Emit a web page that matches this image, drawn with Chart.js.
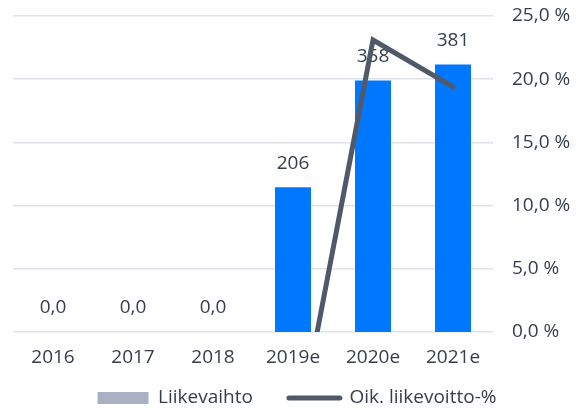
<!DOCTYPE html>
<html>
<head>
<meta charset="utf-8">
<script src="https://cdn.jsdelivr.net/npm/chart.js@4/dist/chart.umd.min.js"></script>
<style>
  html, body { margin: 0; padding: 0; background: #fff; }
  #wrap { width: 581px; height: 408px; }
</style>
</head>
<body>
<div id="wrap"><canvas id="chart"></canvas></div>
<script>
// Chart data
const years = ["2016", "2017", "2018", "2019e", "2020e", "2021e"];
const liikevaihto = [0, 0, 0, 206, 358, 381];
const liikevoittoPct = [null, null, null, -10.0, 23.1, 19.4];
const pctTicks = [0, 5, 10, 15, 20, 25];

const textColor = "#353e4d";
const fontFamily = "'Open Sans', sans-serif";

function fiNumber(v, dec) {
    return v.toFixed(dec).replace(".", ",");
}

// Value labels above the bars
const barLabels = {
    id: "barLabels",
    afterDatasetDraw(chart, args) {
        if (args.index !== 0) return;
        const ctx = chart.ctx;
        ctx.save();
        ctx.fillStyle = textColor;
        ctx.font = "19px " + fontFamily;
        ctx.textAlign = "center";
        ctx.textBaseline = "middle";
        args.meta.data.forEach((bar, i) => {
            const v = liikevaihto[i];
            const txt = v === 0 ? fiNumber(v, 1) : String(v);
            ctx.fillText(txt, bar.x, bar.y - 24);
        });
        ctx.restore();
    }
};

// Legend sits a bit closer to the axis labels than the default layout puts it
const legendShift = {
    id: "legendShift",
    afterLayout(chart) {
        const lg = chart.legend;
        lg.top = 352.5;
        lg.bottom = chart.height;
        lg.height = lg.bottom - lg.top;
    }
};

const ctx = document.getElementById("chart").getContext("2d");
new Chart(ctx, {
    type: "bar",
    data: {
        labels: years,
        datasets: [{
            label: "Liikevaihto",
            data: liikevaihto,
            backgroundColor: "#0077ff",
            yAxisID: "y",
            order: 1,
            barPercentage: 0.45,
            categoryPercentage: 1
        }, {
            type: "line",
            label: "Oik. liikevoitto-%",
            data: liikevoittoPct,
            borderColor: "#505969",
            borderWidth: 5,
            borderCapStyle: "round",
            pointRadius: 0,
            tension: 0,
            yAxisID: "y1",
            order: 0
        }]
    },
    options: {
        responsive: true,
        maintainAspectRatio: false,
        animation: false,
        layout: { padding: { left: 13, right: 0, top: 16, bottom: 0 } },
        plugins: {
            tooltip: { enabled: false },
            legend: {
                position: "bottom",
                maxHeight: 36,
                labels: {
                    color: textColor,
                    font: { family: fontFamily, size: 19 },
                    usePointStyle: true,
                    pointStyleWidth: 51,
                    boxHeight: 12,
                    padding: 36,
                    generateLabels(chart) {
                        return [{
                            text: "Liikevaihto",
                            fillStyle: "#aab1c5",
                            strokeStyle: "#aab1c5",
                            lineWidth: 0,
                            pointStyle: "rect",
                            fontColor: textColor,
                            datasetIndex: 0
                        }, {
                            text: "Oik. liikevoitto-%",
                            fillStyle: "#505969",
                            strokeStyle: "#505969",
                            lineWidth: 5,
                            lineCap: "round",
                            pointStyle: "line",
                            fontColor: textColor,
                            datasetIndex: 1
                        }];
                    }
                }
            }
        },
        scales: {
            x: {
                grid: { display: false, drawTicks: false },
                border: { display: false },
                afterFit(scale) { scale.height = 40; },
                ticks: {
                    color: textColor,
                    font: { family: fontFamily, size: 19 },
                    padding: 14
                }
            },
            y: {
                display: false,
                min: 0,
                max: 450
            },
            y1: {
                position: "right",
                min: 0,
                max: 25,
                afterBuildTicks(scale) {
                    scale.ticks = pctTicks.map(v => ({ value: v }));
                },
                afterFit(scale) {
                    scale.width = 88;
                    scale.paddingTop = 0;
                    scale.paddingBottom = 0;
                },
                grid: { color: "#dfe2e8", lineWidth: 1.5, drawTicks: false },
                border: { display: false },
                ticks: {
                    color: textColor,
                    font: { family: fontFamily, size: 19 },
                    padding: 19,
                    callback: v => fiNumber(v, 1) + " %"
                }
            }
        }
    },
    plugins: [barLabels, legendShift]
});
</script>
</body>
</html>
